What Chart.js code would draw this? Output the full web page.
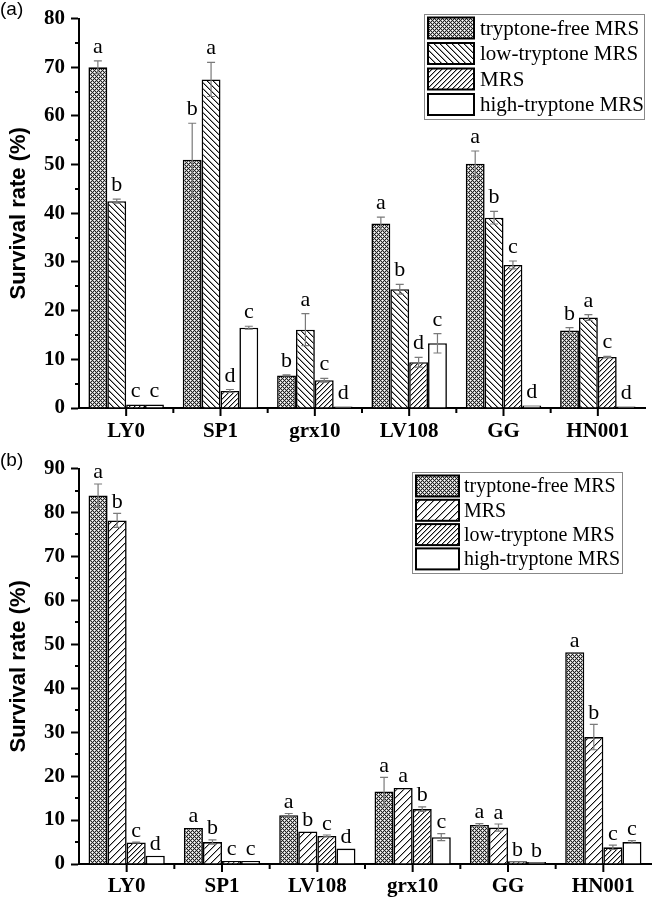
<!DOCTYPE html>
<html>
<head>
<meta charset="utf-8">
<script src="https://cdn.jsdelivr.net/npm/chart.js@4.4.1/dist/chart.umd.min.js"></script>
<style>
  html, body { margin: 0; padding: 0; background: #fff; }
  #wrapA { position: absolute; left: 0; top: 0; width: 653px; height: 450px; }
  #wrapB { position: absolute; left: 0; top: 450px; width: 653px; height: 449px; }
</style>
</head>
<body>
<div id="wrapA"><canvas id="chartA" width="653" height="450"></canvas></div>
<div id="wrapB"><canvas id="chartB" width="653" height="449"></canvas></div>
<script>
// ---------- Data: panel (a) ----------
const categoriesA = ['LY0', 'SP1', 'grx10', 'LV108', 'GG', 'HN001'];
const seriesNamesA = ['tryptone-free MRS', 'low-tryptone MRS', 'MRS', 'high-tryptone MRS'];
const aTrypFree        = [70.0, 51.0, 6.7, 37.9, 50.2, 15.9];
const aTrypFreeErr     = [1.3, 7.5, 0.1, 1.3, 2.6, 0.6];
const aTrypFreeLetters = ['a', 'b', 'b', 'a', 'a', 'b'];
const aLow             = [42.5, 67.5, 16.1, 24.4, 39.1, 18.6];
const aLowErr          = [0.4, 3.5, 3.3, 1.0, 1.3, 0.6];
const aLowLetters      = ['b', 'a', 'a', 'b', 'b', 'a'];
const aMRS             = [0.7, 3.5, 5.7, 9.4, 29.4, 10.5];
const aMRSErr          = [0, 0.3, 0.4, 1.0, 0.8, 0.1];
const aMRSLetters      = ['c', 'd', 'c', 'd', 'c', 'c'];
const aHigh            = [0.7, 16.5, 0.3, 13.3, 0.5, 0.3];
const aHighErr         = [0, 0.3, 0, 2.0, 0, 0];
const aHighLetters     = ['c', 'c', 'd', 'c', 'd', 'd'];
const yTicksA = { min: 0, max: 80, step: 10 };

// ---------- Data: panel (b) ----------
const categoriesB = ['LY0', 'SP1', 'LV108', 'grx10', 'GG', 'HN001'];
const seriesNamesB = ['tryptone-free MRS', 'MRS', 'low-tryptone MRS', 'high-tryptone MRS'];
const bTrypFree        = [83.9, 8.2, 11.1, 16.5, 8.9, 48.2];
const bTrypFreeErr     = [2.6, 0, 0.4, 3.2, 0.3, 0];
const bTrypFreeLetters = ['a', 'a', 'a', 'a', 'a', 'a'];
const bMRS             = [78.2, 5.0, 7.4, 17.3, 8.3, 28.9];
const bMRSErr          = [1.6, 0.5, 0, 0, 0.8, 2.9];
const bMRSLetters      = ['b', 'b', 'b', 'a', 'a', 'b'];
const bLow             = [4.9, 0.7, 6.4, 12.5, 0.6, 3.8];
const bLowErr          = [0.1, 0, 0.2, 0.5, 0, 0.5];
const bLowLetters      = ['c', 'c', 'c', 'b', 'b', 'c'];
const bHigh            = [1.9, 0.7, 3.5, 6.1, 0.45, 5.0];
const bHighErr         = [0, 0, 0, 0.8, 0, 0.3];
const bHighLetters     = ['d', 'c', 'd', 'c', 'b', 'c'];
const yTicksB = { min: 0, max: 90, step: 10 };

// ---------- Patterns ----------
function makeTile(size, fn) {
  const c = document.createElement('canvas');
  c.width = size; c.height = size;
  const g = c.getContext('2d');
  g.fillStyle = '#fff'; g.fillRect(0, 0, size, size);
  for (let x = 0; x < size; x++) for (let y = 0; y < size; y++) {
    const col = fn(x, y);
    if (col) { g.fillStyle = col; g.fillRect(x, y, 1, 1); }
  }
  return document.createElement('canvas').getContext('2d').createPattern(c, 'repeat');
}
const mod = (a, n) => ((a % n) + n) % n;
const patCross = makeTile(4, (x, y) => (mod(x + y, 4) === 0 || mod(x - y, 4) === 0) ? '#222' : (mod(x + y, 4) === 2 && mod(x - y, 4) === 2 ? null : '#bbb'));
const patBack = makeTile(6, (x, y) => mod(x - y, 6) === 0 ? '#111' : (mod(x - y, 6) === 1 ? '#999' : null));
const patFwdDense = makeTile(5, (x, y) => mod(x + y, 5) === 0 ? '#111' : (mod(x + y, 5) === 1 ? '#aaa' : null));
const patFwdSparse = makeTile(7, (x, y) => mod(x + y, 7) === 0 ? '#111' : (mod(x + y, 7) === 1 ? '#aaa' : null));

// ---------- Plugin: error bars, letters, ticks, legend, titles ----------
const decor = {
  id: 'decor',
  afterDatasetsDraw(chart, args, o) {
    const { ctx } = chart;
    const y = chart.scales.y;
    ctx.save();
    chart.data.datasets.forEach((ds, i) => {
      const meta = chart.getDatasetMeta(i);
      meta.data.forEach((bar, j) => {
        const v = ds.data[j], e = ds.errors[j] || 0;
        const cx = bar.x;
        if (e > 0) {
          const y1 = y.getPixelForValue(v + e), y2 = y.getPixelForValue(v - e);
          ctx.strokeStyle = '#7a7a7a'; ctx.lineWidth = 1.2;
          ctx.beginPath();
          ctx.moveTo(cx, y1); ctx.lineTo(cx, y2);
          ctx.moveTo(cx - 4, y1); ctx.lineTo(cx + 4, y1);
          ctx.moveTo(cx - 4, y2); ctx.lineTo(cx + 4, y2);
          ctx.stroke();
        }
        const top = y.getPixelForValue(v + e);
        ctx.fillStyle = '#000';
        ctx.font = '22px "Liberation Serif"';
        ctx.textAlign = 'center'; ctx.textBaseline = 'alphabetic';
        ctx.fillText(ds.letters[j], cx, top - o.letterGap);
      });
    });
    ctx.restore();
  },
  afterDraw(chart, args, o) {
    const { ctx, chartArea } = chart;
    const x = chart.scales.x, y = chart.scales.y;
    ctx.save();
    ctx.strokeStyle = '#000'; ctx.lineWidth = 2;
    // minor y ticks
    ctx.beginPath();
    for (let v = o.yMin + o.yStep / 2; v < o.yMax; v += o.yStep) {
      const py = Math.round(y.getPixelForValue(v));
      ctx.moveTo(chartArea.left - 4, py); ctx.lineTo(chartArea.left, py);
    }
    // x ticks at centres (long) and boundaries (short)
    const n = chart.data.labels.length;
    const step = (chartArea.right - chartArea.left) / n;
    for (let i = 0; i < n; i++) {
      const cx = x.getPixelForValue(i);
      ctx.moveTo(cx, chartArea.bottom); ctx.lineTo(cx, chartArea.bottom + 8);
      if (i > 0) {
        const bx = cx - step / 2;
        ctx.moveTo(bx, chartArea.bottom); ctx.lineTo(bx, chartArea.bottom + 5);
      }
    }
    ctx.stroke();

    // y title
    ctx.fillStyle = '#000';
    ctx.font = 'bold 22px "Liberation Sans"';
    ctx.textAlign = 'center'; ctx.textBaseline = 'middle';
    ctx.save();
    ctx.translate(o.titleX, (chartArea.top + chartArea.bottom) / 2);
    ctx.rotate(-Math.PI / 2);
    ctx.fillText('Survival rate (%)', 0, 0);
    ctx.restore();

    // panel label
    ctx.font = '19px "Liberation Sans"';
    ctx.textAlign = 'left';
    ctx.fillText(o.panel, 0, o.panelY);

    // legend
    const L = o.legend;
    ctx.fillStyle = '#fff';
    ctx.fillRect(L.x, L.y, L.w, L.h);
    ctx.strokeStyle = '#888'; ctx.lineWidth = 1;
    ctx.strokeRect(L.x + 0.5, L.y + 0.5, L.w - 1, L.h - 1);
    chart.data.datasets.forEach((ds, i) => {
      const cy = L.y + L.first + i * L.rowH;
      ctx.fillStyle = ds.backgroundColor;
      ctx.fillRect(L.sx, cy - L.sh / 2, L.sw, L.sh);
      ctx.strokeStyle = '#000'; ctx.lineWidth = 2;
      ctx.strokeRect(L.sx, cy - L.sh / 2, L.sw, L.sh);
      ctx.fillStyle = '#000';
      ctx.font = L.font;
      ctx.textAlign = 'left'; ctx.textBaseline = 'middle';
      ctx.fillText(ds.label, L.tx, cy + 1);
    });
    ctx.restore();
  }
};

function makeDatasets(names, vals, errs, letters, pats) {
  return names.map((nm, i) => ({
    label: nm, data: vals[i], errors: errs[i], letters: letters[i],
    backgroundColor: pats[i], borderColor: '#000', borderWidth: 1.6,
    categoryPercentage: 0.8, barPercentage: 1.0
  }));
}

function makeOptions(cfg) {
  return {
    responsive: false, animation: false, devicePixelRatio: 1,
    layout: { padding: { left: 0, right: cfg.padRight, top: cfg.padTop, bottom: 0 } },
    plugins: {
      legend: { display: false }, tooltip: { enabled: false },
      decor: cfg.decor
    },
    scales: {
      x: {
        type: 'category',
        grid: { display: true, drawOnChartArea: false, drawTicks: false },
        border: { display: true, color: '#000', width: 2 },
        ticks: { color: '#000', padding: cfg.xPad, font: { family: 'Liberation Serif', weight: 'bold', size: 21 } },
        afterFit: s => { s.height = cfg.xHeight; }
      },
      y: {
        min: cfg.yMin, max: cfg.yMax,
        grid: { display: true, drawOnChartArea: false, drawTicks: true, tickLength: 8, tickWidth: 2, tickColor: '#000' },
        border: { display: true, color: '#000', width: 2 },
        ticks: { stepSize: cfg.yStep, color: '#000', padding: 6, font: { family: 'Liberation Serif', weight: 'bold', size: 21 } },
        afterFit: s => { s.width = 79; }
      }
    }
  };
}

new Chart(document.getElementById('chartA'), {
  type: 'bar',
  data: {
    labels: categoriesA,
    datasets: makeDatasets(seriesNamesA,
      [aTrypFree, aLow, aMRS, aHigh],
      [aTrypFreeErr, aLowErr, aMRSErr, aHighErr],
      [aTrypFreeLetters, aLowLetters, aMRSLetters, aHighLetters],
      [patCross, patBack, patFwdDense, '#ffffff'])
  },
  options: makeOptions({
    padRight: 8, padTop: 8, xPad: 11, xHeight: 42,
    yMin: yTicksA.min, yMax: yTicksA.max, yStep: yTicksA.step,
    decor: {
      letterGap: 8, yMin: yTicksA.min, yMax: yTicksA.max, yStep: yTicksA.step,
      titleX: 19, panel: '(a)', panelY: 10,
      legend: { x: 424, y: 14, w: 221, h: 106, first: 14, rowH: 25.5, sx: 428, sw: 46, sh: 21, tx: 480, font: '21px "Liberation Serif"' }
    }
  }),
  plugins: [decor]
});

new Chart(document.getElementById('chartB'), {
  type: 'bar',
  data: {
    labels: categoriesB,
    datasets: makeDatasets(seriesNamesB,
      [bTrypFree, bMRS, bLow, bHigh],
      [bTrypFreeErr, bMRSErr, bLowErr, bHighErr],
      [bTrypFreeLetters, bMRSLetters, bLowLetters, bHighLetters],
      [patCross, patFwdSparse, patFwdDense, '#ffffff'])
  },
  options: makeOptions({
    padRight: 2, padTop: 15, xPad: 10, xHeight: 35,
    yMin: yTicksB.min, yMax: yTicksB.max, yStep: yTicksB.step,
    decor: {
      letterGap: 5.5, yMin: yTicksB.min, yMax: yTicksB.max, yStep: yTicksB.step,
      titleX: 19, panel: '(b)', panelY: 11,
      legend: { x: 412, y: 22, w: 211, h: 102, first: 14, rowH: 24.3, sx: 416, sw: 43, sh: 21, tx: 464, font: '20px "Liberation Serif"' }
    }
  }),
  plugins: [decor]
});
</script>
</body>
</html>
